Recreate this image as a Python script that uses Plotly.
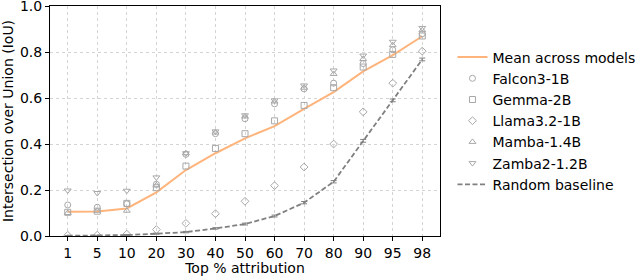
import plotly.graph_objects as go

top_pct = ["1", "5", "10", "20", "30", "40", "50", "60", "70", "80", "90", "95", "98"]

mean_iou = [0.105, 0.107, 0.12, 0.19, 0.287, 0.36, 0.425, 0.478, 0.553, 0.626, 0.716, 0.787, 0.869]
falcon = [0.135, 0.125, 0.14, 0.225, 0.355, 0.445, 0.51, 0.575, 0.64, 0.665, 0.75, 0.81, 0.88]
gemma = [0.103, 0.108, 0.142, 0.21, 0.304, 0.381, 0.445, 0.501, 0.568, 0.645, 0.735, 0.79, 0.87]
llama = [0.003, 0.004, 0.008, 0.028, 0.055, 0.097, 0.151, 0.219, 0.30, 0.40, 0.54, 0.665, 0.804]
mamba = [0.10, 0.11, 0.11, 0.22, 0.36, 0.45, 0.52, 0.585, 0.645, 0.705, 0.77, 0.83, 0.895]
zamba = [0.198, 0.187, 0.197, 0.255, 0.36, 0.455, 0.525, 0.59, 0.655, 0.72, 0.785, 0.845, 0.905]
random_base = [0.001, 0.002, 0.004, 0.01, 0.017, 0.033, 0.052, 0.087, 0.145, 0.236, 0.414, 0.59, 0.768]
random_err = [0.001, 0.001, 0.002, 0.002, 0.003, 0.003, 0.004, 0.004, 0.005, 0.005, 0.006, 0.006, 0.006]
y_ticks = [0.0, 0.2, 0.4, 0.6, 0.8, 1.0]

models = [
    ("Falcon3-1B", falcon, "circle-open"),
    ("Gemma-2B", gemma, "square-open"),
    ("Llama3.2-1B", llama, "diamond-open"),
    ("Mamba-1.4B", mamba, "triangle-up-open"),
    ("Zamba2-1.2B", zamba, "triangle-down-open"),
]

FONT = "DejaVu Sans"
FS = 14
GRAY_MK = "#a8a8a8"

fig = go.Figure()

fig.add_trace(go.Scatter(
    x=top_pct, y=mean_iou, mode="lines", name="Mean across models",
    line=dict(color="#ffb47c", width=2),
))

for name, vals, sym in models:
    fig.add_trace(go.Scatter(
        x=top_pct, y=vals, mode="markers", name=name,
        marker=dict(symbol=sym, size=6, color=GRAY_MK, line=dict(width=1, color=GRAY_MK)),
    ))

fig.add_trace(go.Scatter(
    x=top_pct, y=random_base, mode="lines", name="Random baseline",
    line=dict(color="#808080", width=1.8, dash="5px,2.5px"),
    error_y=dict(type="data", array=random_err, color="#808080", thickness=1, width=3),
))

fig.update_layout(
    width=640, height=276,
    margin=dict(l=50, r=200, t=6, b=40, autoexpand=False),
    paper_bgcolor="white", plot_bgcolor="white",
    font=dict(family=FONT, size=FS, color="black"),
    showlegend=True,
    legend=dict(x=1.032, xanchor="left", y=0.5, yanchor="middle",
                font=dict(family=FONT, size=FS, color="black"),
                bgcolor="rgba(0,0,0,0)", borderwidth=0, tracegroupgap=0),
)

fig.update_xaxes(
    type="category", range=[-0.6, 12.6], automargin=False,
    showline=True, linecolor="black", linewidth=1, mirror=True,
    ticks="outside", ticklen=4, tickcolor="black",
    showgrid=True, gridcolor="#d4d4d4", griddash="dot", gridwidth=1,
    title=dict(text="Top % attribution", standoff=2, font=dict(size=FS)),
    tickfont=dict(size=FS),
    zeroline=False,
)
fig.update_yaxes(
    range=[0, 1.0005], tickvals=y_ticks, tickformat=".1f", automargin=False,
    ticklabeloverflow="allow",
    showline=True, linecolor="black", linewidth=1, mirror=True,
    ticks="outside", ticklen=4, tickcolor="black",
    showgrid=True, gridcolor="#d4d4d4", griddash="dot", gridwidth=1,
    title=dict(text="Intersection over Union (IoU)", standoff=5, font=dict(size=FS)),
    tickfont=dict(size=FS),
    zeroline=False,
)

fig.write_html("out.html", config={"displayModeBar": False},
               post_script="document.body.style.margin='0';")
